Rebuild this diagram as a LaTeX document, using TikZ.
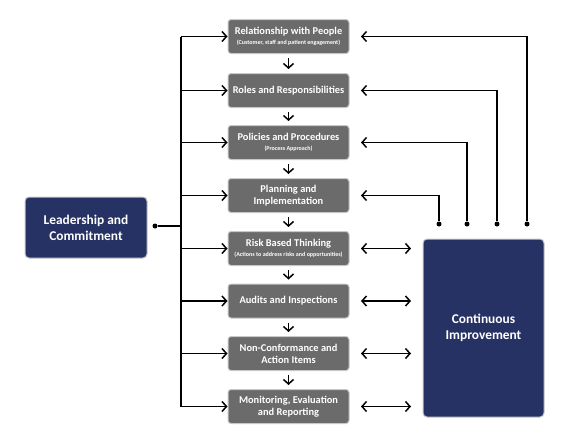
\documentclass[tikz,border=0pt]{standalone}
\usepackage{fontspec}
\setmainfont{Carlito}
\usetikzlibrary{arrows.meta}
\definecolor{boxgray}{HTML}{6B6B6B}
\definecolor{navy}{HTML}{263264}
\definecolor{edgegray}{HTML}{C8C8C8}
\tikzset{
  graybox/.style={draw=edgegray, line width=1pt, fill=boxgray, rounded corners=3pt,
    minimum width=121pt, minimum height=34pt, inner sep=1pt, align=center,
    text=white, font=\fontsize{10.4}{12}\selectfont\bfseries},
  navybox/.style={draw=edgegray, line width=1pt, fill=navy, rounded corners=4pt,
    align=center, text=white, font=\fontsize{13.4}{16}\selectfont\bfseries},
  conn/.style={line width=1.5pt, black},
  arr/.style={conn, -{Straight Barb[length=4.5pt,width=10pt]}},
  darr/.style={conn, {Straight Barb[length=4.5pt,width=10pt]}-{Straight Barb[length=4.5pt,width=10pt]}},
  dotc/.style={circle, fill=black, inner sep=0pt, minimum size=5pt},
}
\newcommand{\subt}[1]{\\[-2pt]{\fontsize{6}{7}\selectfont #1}}
\begin{document}
\begin{tikzpicture}[x=1pt,y=-1pt]
\useasboundingbox (0,0) rectangle (574,447);
% gray boxes
\node[graybox] (b1) at (288.5,36.5) {Relationship with People\subt{(Customer, staff and patient engagement)}};
\node[graybox] (b2) at (288.5,90.5) {Roles and Responsibilities};
\node[graybox] (b3) at (288.5,142.5) {Policies and Procedures\subt{(Process Approach)}};
\node[graybox] (b4) at (288.5,195.5) {Planning and\\Implementation};
\node[graybox] (b5) at (288.5,248.5) {Risk Based Thinking\subt{(Actions to address risks and opportunities)}};
\node[graybox] (b6) at (288.5,301) {Audits and Inspections};
\node[graybox] (b7) at (288.5,353.5) {Non-Conformance and\\Action Items};
\node[graybox] (b8) at (288.5,406.5) {Monitoring, Evaluation\\and Reporting};
% navy boxes
\node[navybox, minimum width=122pt, minimum height=61pt] (lead) at (86,227.5) {Leadership and\\Commitment};
\node[navybox, minimum width=121pt, minimum height=178pt] (ci) at (483.5,328) {Continuous\\Improvement};
% down arrows
\foreach \a/\b in {b1/b2,b2/b3,b3/b4,b4/b5,b5/b6,b6/b7,b7/b8}
  \draw[arr, shorten <=4pt, shorten >=4pt] (\a.south) -- (\b.north);
% leadership spine
\node[dotc] (ld) at (155,226) {};
\coordinate (sp) at (181,226);
\coordinate (stop) at (181,36.5);
\coordinate (sbot) at (181,406.5);
\draw[conn] (ld) -- (sp);
\draw[conn] (stop) -- (sbot);
\foreach \b in {b1,b2,b3,b4,b5,b6,b7,b8}
  \draw[arr] (\b.west -| sp) -- (\b.west);
% feedback lines
\foreach \b/\x in {b4/439,b3/467,b2/497,b1/527}{
  \node[dotc] (d\b) at (\x,224) {};
  \coordinate (t\b) at (361,0 |- \b.east);
  \draw[arr] (d\b) |- (t\b);
}
% double arrows
\foreach \b in {b5,b6,b7,b8}{
  \coordinate (l\b) at (361,0 |- \b.east);
  \coordinate (r\b) at (411,0 |- \b.east);
  \draw[darr] (l\b) -- (r\b);
}
\end{tikzpicture}
\end{document}
